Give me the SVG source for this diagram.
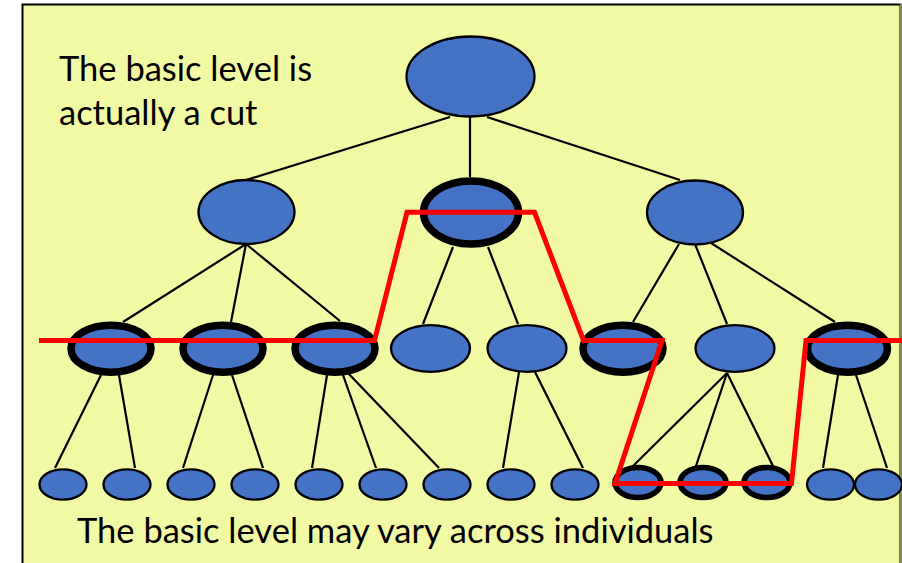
<svg xmlns="http://www.w3.org/2000/svg" width="902" height="563" viewBox="0 0 902 563">
<style>
.n{fill:#4472C4;stroke:#000;stroke-width:2.3}
.b{fill:#4472C4;stroke:#000;stroke-width:7.5}
.bl{fill:#4472C4;stroke:#000;stroke-width:5.5}
.c{stroke:#000;stroke-width:2.2;fill:none}
.cut{stroke:#FF0000;stroke-width:5;fill:none;stroke-linejoin:miter}
.t{font-family:Lato,"Liberation Sans",sans-serif;font-size:34.5px;fill:#000}
</style>
<rect x="0" y="0" width="902" height="563" fill="#fff"/>
<rect x="22.5" y="4.5" width="878" height="570" fill="#F2F9A4" stroke="#000" stroke-width="2"/>
<line x1="900.5" y1="4" x2="900.5" y2="563" stroke="#8a8a5a" stroke-width="1.5"/>
<g id="connectors">
<line class="c" x1="450" y1="117" x2="246" y2="180"/>
<line class="c" x1="470" y1="116" x2="470" y2="177"/>
<line class="c" x1="487" y1="117" x2="680" y2="180"/>
<line class="c" x1="246" y1="244" x2="123" y2="322"/>
<line class="c" x1="246" y1="244" x2="231" y2="322"/>
<line class="c" x1="246" y1="244" x2="340" y2="321"/>
<line class="c" x1="453" y1="247" x2="423" y2="324"/>
<line class="c" x1="488" y1="247" x2="518" y2="324"/>
<line class="c" x1="679" y1="244" x2="633" y2="322"/>
<line class="c" x1="695" y1="244" x2="727" y2="324"/>
<line class="c" x1="711" y1="243" x2="835" y2="322"/>
<line class="c" x1="101" y1="375" x2="55" y2="468"/>
<line class="c" x1="119" y1="375" x2="135" y2="468"/>
<line class="c" x1="213" y1="375" x2="183" y2="468"/>
<line class="c" x1="232" y1="375" x2="263" y2="468"/>
<line class="c" x1="327" y1="375" x2="312" y2="468"/>
<line class="c" x1="343" y1="375" x2="376" y2="468"/>
<line class="c" x1="347" y1="372" x2="439" y2="468"/>
<line class="c" x1="519" y1="372" x2="503" y2="468"/>
<line class="c" x1="535" y1="372" x2="583" y2="468"/>
<line class="c" x1="727" y1="373" x2="633" y2="466"/>
<line class="c" x1="727" y1="373" x2="696" y2="466"/>
<line class="c" x1="727" y1="373" x2="773" y2="466"/>
<line class="c" x1="838" y1="375" x2="823" y2="468"/>
<line class="c" x1="856" y1="375" x2="887" y2="468"/>
</g>
<g id="root"><ellipse class="n" cx="470.5" cy="76.5" rx="64" ry="40"/></g>
<g id="l2-left"><ellipse class="n" cx="246.5" cy="212" rx="48" ry="32"/></g>
<g id="l2-mid"><ellipse class="b" cx="471" cy="212.5" rx="47.5" ry="31.5"/></g>
<g id="l2-right"><ellipse class="n" cx="695" cy="212.5" rx="48" ry="32"/></g>
<g id="l3-1"><ellipse class="b" cx="111" cy="348.7" rx="40" ry="23.5"/></g>
<g id="l3-2"><ellipse class="b" cx="223" cy="348.7" rx="40" ry="23.5"/></g>
<g id="l3-3"><ellipse class="b" cx="335" cy="348.7" rx="40" ry="23.5"/></g>
<g id="l3-4"><ellipse class="n" cx="430.5" cy="348.5" rx="39.5" ry="23.3"/></g>
<g id="l3-5"><ellipse class="n" cx="527" cy="348.5" rx="39.5" ry="23.3"/></g>
<g id="l3-6"><ellipse class="b" cx="623" cy="348.7" rx="40" ry="23.5"/></g>
<g id="l3-7"><ellipse class="n" cx="735" cy="348.5" rx="39.5" ry="23.3"/></g>
<g id="l3-8"><ellipse class="b" cx="847.5" cy="348.7" rx="40" ry="23.5"/></g>
<g id="l4-1"><ellipse class="n" cx="63" cy="484.5" rx="23.5" ry="15.2"/></g>
<g id="l4-2"><ellipse class="n" cx="127" cy="484.5" rx="23.5" ry="15.2"/></g>
<g id="l4-3"><ellipse class="n" cx="191" cy="484.5" rx="23.5" ry="15.2"/></g>
<g id="l4-4"><ellipse class="n" cx="255" cy="484.5" rx="23.5" ry="15.2"/></g>
<g id="l4-5"><ellipse class="n" cx="319" cy="484.5" rx="23.5" ry="15.2"/></g>
<g id="l4-6"><ellipse class="n" cx="383" cy="484.5" rx="23.5" ry="15.2"/></g>
<g id="l4-7"><ellipse class="n" cx="447" cy="484.5" rx="23.5" ry="15.2"/></g>
<g id="l4-8"><ellipse class="n" cx="511" cy="484.5" rx="23.5" ry="15.2"/></g>
<g id="l4-9"><ellipse class="n" cx="575" cy="484.5" rx="23.5" ry="15.2"/></g>
<g id="l4-10"><ellipse class="bl" cx="638" cy="482.5" rx="23" ry="15"/></g>
<g id="l4-11"><ellipse class="bl" cx="703" cy="482.5" rx="23" ry="15"/></g>
<g id="l4-12"><ellipse class="bl" cx="767" cy="482.5" rx="23" ry="15"/></g>
<g id="l4-13"><ellipse class="n" cx="830.5" cy="484.5" rx="23.5" ry="15.2"/></g>
<g id="l4-14"><ellipse class="n" cx="878.5" cy="484.5" rx="23.5" ry="15.2"/></g>
<g id="cut-line"><polyline class="cut" points="39,340.5 374.5,340.5 407,212.3 534.5,212.3 583.5,340.5 662,340.5 615,483.5 791.5,483.5 806,340.5 903,340.5"/></g>
<g id="labels">
<text class="t" x="59" y="81">The basic level is</text>
<text class="t" x="59" y="125">actually a cut</text>
<text class="t" x="77" y="543">The basic level may vary across individuals</text>
</g>
</svg>
